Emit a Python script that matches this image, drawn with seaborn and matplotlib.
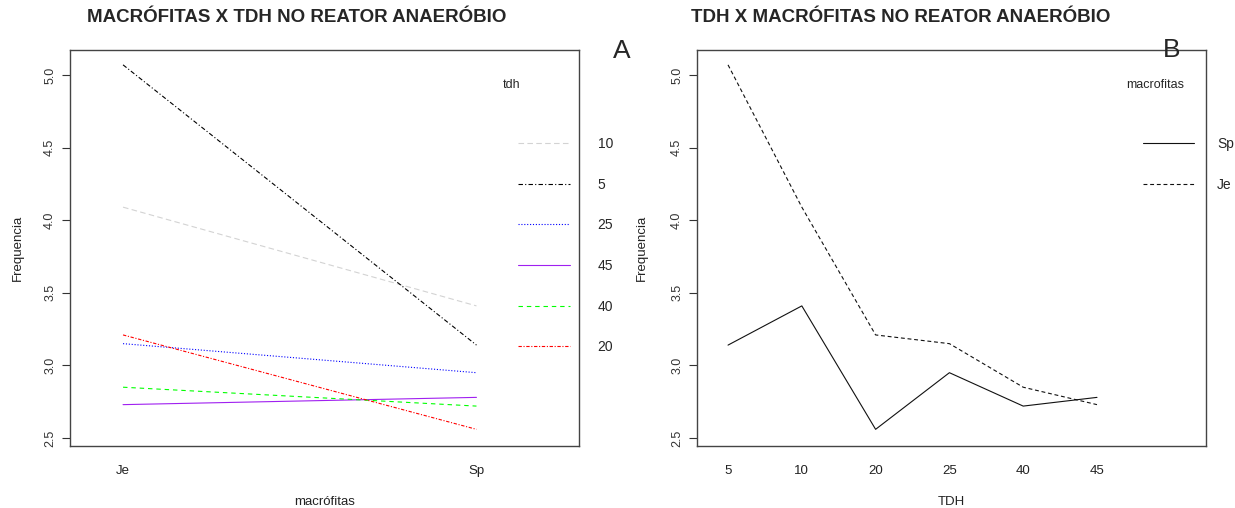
import numpy as np
import pandas as pd
import seaborn as sns
import matplotlib.pyplot as plt

# values
macrofitas = ["Je", "Sp"]
tdh = ["5", "10", "20", "25", "40", "45"]
freq_je = [5.07, 4.09, 3.21, 3.15, 2.85, 2.73]
freq_sp = [3.14, 3.41, 2.56, 2.95, 2.72, 2.78]

rows = []
for i, t in enumerate(tdh):
    rows.append({"tdh": t, "macrofitas": "Je", "freq": freq_je[i]})
    rows.append({"tdh": t, "macrofitas": "Sp", "freq": freq_sp[i]})
df = pd.DataFrame(rows)

# legend order like R interaction.plot: by last value, descending
order_a = [tdh[i] for i in np.argsort(freq_sp)[::-1]]
order_b = ["Sp", "Je"] if freq_sp[-1] > freq_je[-1] else ["Je", "Sp"]

cores = {"10": "#D3D3D3", "5": "#000000", "25": "#0000FF",
         "45": "#A020F0", "40": "#00FF00", "20": "#FF0000"}
tracos = {"10": (5, 3), "5": (4, 2, 1, 2), "25": (1, 1.6),
          "45": "", "40": (4, 3.5), "20": (3, 1.5, 1, 1.5)}

sns.set_style("ticks")
plt.rcParams['font.family'] = ['Liberation Sans', 'DejaVu Sans']

fig = plt.figure(figsize=(12.35, 5.08), dpi=100)
ax1 = fig.add_axes([0.0567, 0.122, 0.4121, 0.7795])
ax2 = fig.add_axes([0.5644, 0.122, 0.4121, 0.7795])

sns.lineplot(data=df, x="macrofitas", y="freq", hue="tdh", style="tdh",
             hue_order=order_a, style_order=order_a, palette=cores, dashes=tracos,
             sort=False, errorbar=None, lw=0.8, ax=ax1)
sns.lineplot(data=df, x="tdh", y="freq", hue="macrofitas", style="macrofitas",
             hue_order=order_b, style_order=order_b,
             palette={"Sp": "#111111", "Je": "#111111"},
             dashes={"Sp": "", "Je": (3.5, 2.5)},
             sort=False, errorbar=None, lw=0.8, ax=ax2)

# legends without title; titles written separately like R does
sns.move_legend(ax1, "upper left", bbox_to_anchor=(0.866, 0.798), frameon=False,
                title=None, fontsize=10,
                handlelength=3.75, handletextpad=2.0, labelspacing=1.92, borderpad=0)
sns.move_legend(ax2, "upper left", bbox_to_anchor=(0.862, 0.798), frameon=False,
                title=None, fontsize=10,
                handlelength=3.7, handletextpad=1.64, labelspacing=1.92, borderpad=0)
ax1.text(0.851, 0.912, "tdh", transform=ax1.transAxes, ha="left", va="center", fontsize=9)
ax2.text(0.900, 0.912, "macrofitas", transform=ax2.transAxes, ha="center", va="center", fontsize=9)

for ax, xl, xlim, ttl, tx in [
        (ax1, "macrófitas", (-0.15, 1.29), "MACRÓFITAS X TDH NO REATOR ANAERÓBIO", 0.446),
        (ax2, "TDH", (-0.42, 6.477), "TDH X MACRÓFITAS NO REATOR ANAERÓBIO", 0.40)]:
    ax.set_xlim(*xlim)
    ax.set_ylim(2.445, 5.172)
    ax.set_yticks([2.5, 3.0, 3.5, 4.0, 4.5, 5.0])
    ax.set_yticklabels(["2.5", "3.0", "3.5", "4.0", "4.5", "5.0"], rotation=90, va="center")
    ax.tick_params(axis="y", length=6, width=0.8, pad=4, labelsize=9, colors="#333333")
    ax.tick_params(axis="x", length=0, pad=14, labelsize=9.5, colors="#222222")
    ax.set_xlabel(xl, fontsize=9.5, color="#222222")
    ax.set_ylabel("Frequencia", fontsize=9.5, color="#222222")
    ax.xaxis.set_label_coords(0.5, -0.141)
    ax.xaxis.label.set_va("center")
    ax.yaxis.label.set_va("center")
    for s in ax.spines.values():
        s.set_visible(True)
        s.set_color("#444444")
        s.set_linewidth(1.0)
    ax.text(tx, 1.081, ttl, transform=ax.transAxes, ha="center", va="center",
            fontsize=13.5, fontweight="bold")

ax1.yaxis.set_label_coords(-0.102, 0.5)
ax2.yaxis.set_label_coords(-0.108, 0.5)

fig.text(622 / 1235, 1 - 51 / 508, "A", fontsize=19, ha="center", va="center")
fig.text(1172 / 1235, 1 - 50 / 508, "B", fontsize=19, ha="center", va="center")

fig.savefig("out.png", dpi=100)
